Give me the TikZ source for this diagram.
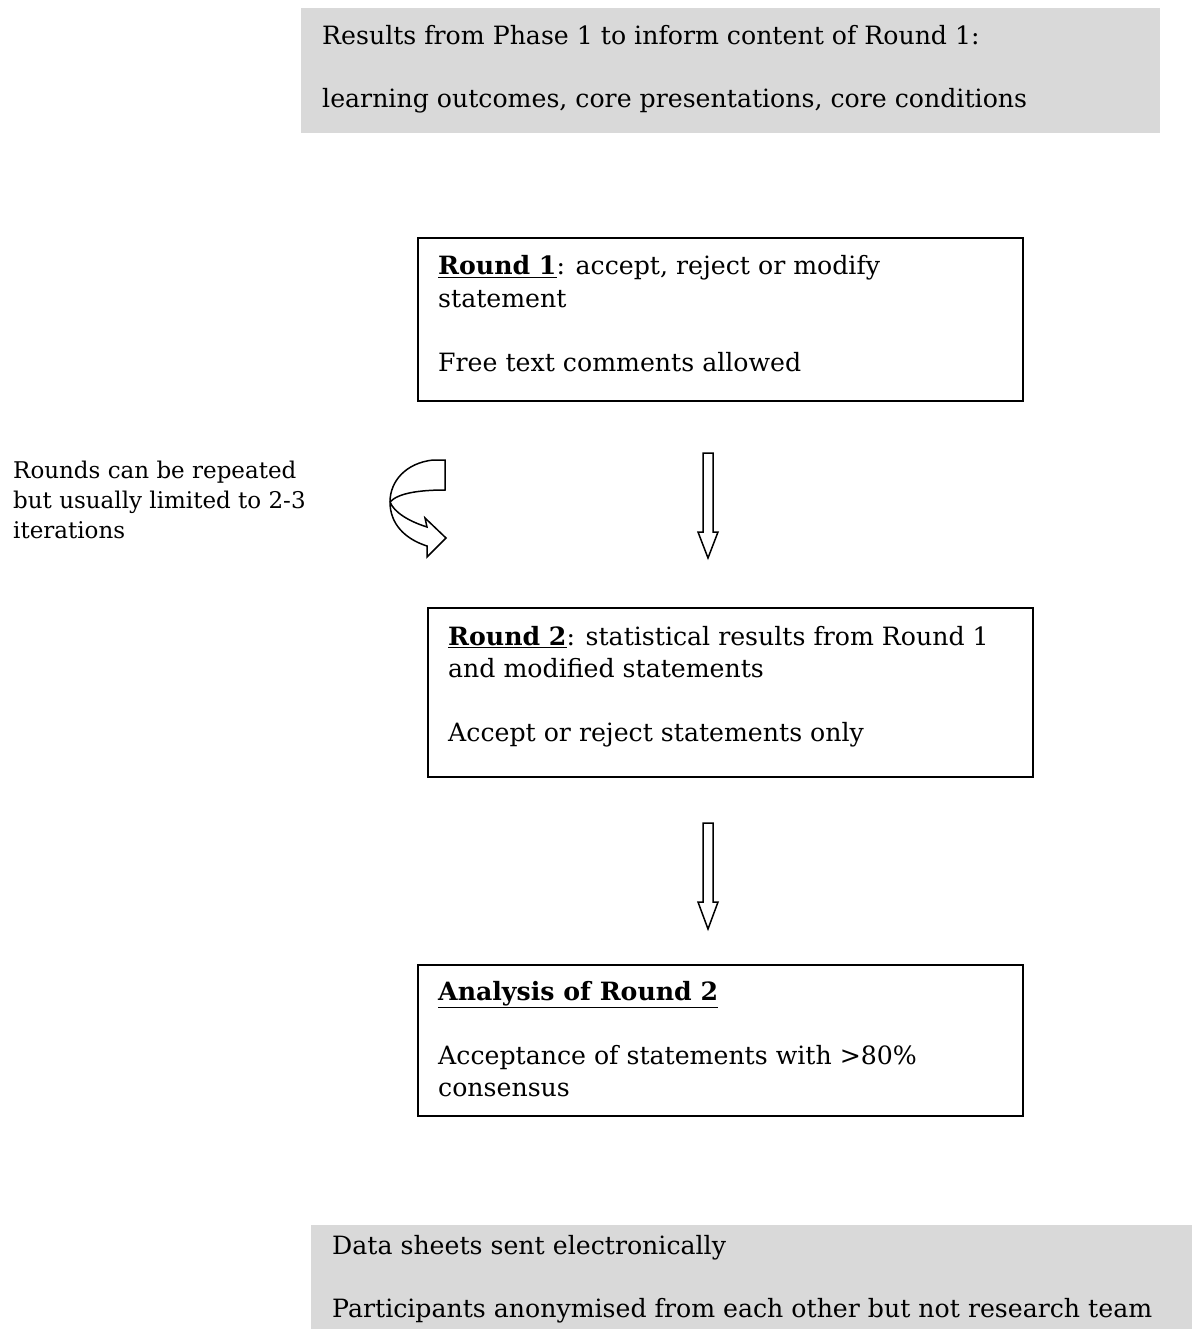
\documentclass[tikz,border=0pt]{standalone}
\usepackage{fontspec}
\setmainfont{DejaVu Serif}
\definecolor{boxgray}{RGB}{217,217,217}
\begin{document}
\begin{tikzpicture}[x=1pt,y=-1pt,
  txt/.style={anchor=base west, inner sep=0pt, font=\fontsize{25.2}{31}\selectfont},
  smalltxt/.style={anchor=base west, inner sep=0pt, font=\fontsize{23}{29}\selectfont},
  frame/.style={draw=black, line width=1.9pt, anchor=north west, inner sep=0pt},
  shade/.style={fill=boxgray, anchor=north west, inner sep=0pt},
  blk/.style={draw=black, line width=1.5pt, fill=white, line join=miter}]
\useasboundingbox (0,0) rectangle (1192,1329);
% grey panels
\node[shade, minimum width=859pt, minimum height=125pt] (top) at (301,8) {};
\node[shade, minimum width=881pt, minimum height=104pt] (bot) at (311,1225) {};
% boxes
\node[frame, minimum width=605pt, minimum height=163pt] (r1) at (417,237) {};
\node[frame, minimum width=605pt, minimum height=169pt] (r2) at (427,607) {};
\node[frame, minimum width=605pt, minimum height=151pt] (an) at (417,964) {};
% texts
\node[txt] (top1) at (322,45) {Results from Phase 1 to inform content of Round 1:};
\node[txt] (top2) at (322,108) {learning outcomes, core presentations, core conditions};
\node[txt] (r1a) at (438,275) {\underline{\textbf{Round 1}}: accept, reject or modify};
\node[txt] (r1b) at (438,307) {statement};
\node[txt] (r1c) at (438,371) {Free text comments allowed};
\node[txt] (r2a) at (448,645) {\underline{\textbf{Round 2}}: statistical results from Round 1};
\node[txt] (r2b) at (448,677) {and modified statements};
\node[txt] (r2c) at (448,741) {Accept or reject statements only};
\node[txt] (ana) at (438,1000) {\underline{\textbf{Analysis of Round 2}}};
\node[txt] (anb) at (438,1064) {Acceptance of statements with >80\%};
\node[txt] (anc) at (438,1096) {consensus};
\node[smalltxt] (lf1) at (13,478) {Rounds can be repeated};
\node[smalltxt] (lf2) at (13,508) {but usually limited to 2-3};
\node[smalltxt] (lf3) at (13,538) {iterations};
\node[txt] (bt1) at (332,1254) {Data sheets sent electronically};
\node[txt] (bt2) at (332,1317) {Participants anonymised from each other but not research team};
% block arrows
\draw[blk] (703,453) -- (713,453) -- (713,532) -- (718,532) -- (708,558) -- (698,532) -- (703,532) -- cycle;
\draw[blk] (703,823) -- (713,823) -- (713,902) -- (718,902) -- (708,929) -- (698,902) -- (703,902) -- cycle;
% curved arrow
\draw[blk] (445,460) -- (433,460) .. controls (406,463) and (390,481) .. (390,502)
  .. controls (390,524) and (405,539) .. (427,546) -- (427,557) -- (446,538) -- (425,518) -- (427,527)
  .. controls (408,521) and (394,512) .. (390,502)
  .. controls (398,493) and (420,490) .. (445,490) -- cycle;
\end{tikzpicture}
\end{document}
